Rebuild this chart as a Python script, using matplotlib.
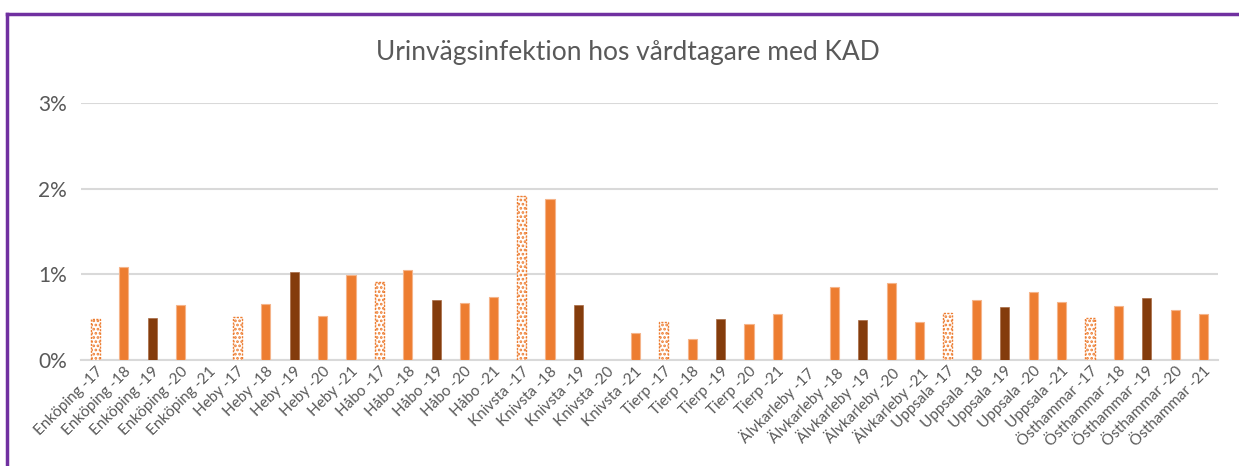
import matplotlib
matplotlib.use("Agg")
import matplotlib.pyplot as plt
from matplotlib.ticker import FuncFormatter
from matplotlib.lines import Line2D

plt.rcParams['font.family'] = ['Lato', 'DejaVu Sans']
plt.rcParams['hatch.linewidth'] = 1.3

municipalities = ["Enköping", "Heby", "Håbo", "Knivsta", "Tierp", "Älvkarleby", "Uppsala", "Östhammar"]
years = ["-17", "-18", "-19", "-20", "-21"]
labels = [f"{m} {y}" for m in municipalities for y in years]

values = [
    0.48, 1.09, 0.49, 0.64, 0.00,   # Enköping
    0.50, 0.65, 1.03, 0.51, 0.99,   # Heby
    0.91, 1.05, 0.70, 0.67, 0.74,   # Håbo
    1.92, 1.88, 0.64, 0.00, 0.31,   # Knivsta
    0.44, 0.24, 0.48, 0.42, 0.54,   # Tierp
    0.00, 0.85, 0.47, 0.90, 0.44,   # Älvkarleby
    0.55, 0.70, 0.62, 0.79, 0.68,   # Uppsala
    0.49, 0.63, 0.72, 0.58, 0.54,   # Östhammar
]
values = [v / 100 for v in values]

ORANGE = "#ED7D31"
BROWN = "#843C0C"
GRAY = "#595959"

fig = plt.figure(figsize=(12.39, 4.66), dpi=100)
ax = fig.add_axes([0.0654, 0.2275, 0.9176, 0.5515])

x = list(range(len(labels)))
for i, v in enumerate(values):
    yr = years[i % 5]
    if v <= 0:
        continue
    if yr == "-17":
        ax.bar(i, v, width=0.32, facecolor="white", edgecolor=ORANGE,
               hatch="....", linewidth=1.0, linestyle=(0, (1.5, 1)), zorder=3)
    elif yr == "-19":
        ax.bar(i, v, width=0.32, color=BROWN, edgecolor="#A86A44", linewidth=0.5, zorder=3)
    else:
        ax.bar(i, v, width=0.32, color=ORANGE, edgecolor="#F5B48A", linewidth=0.8, zorder=3)

ax.set_xlim(-0.5, len(labels) - 0.5)
ax.set_ylim(0, 0.03)
ax.set_yticks([0, 0.01, 0.02, 0.03])
ax.yaxis.set_major_formatter(FuncFormatter(lambda v, p: f"{v*100:.0f}%"))
ax.grid(axis="y", color="#D9D9D9", linewidth=1.5, zorder=0)
ax.set_axisbelow(True)
for s in ["top", "right", "left"]:
    ax.spines[s].set_visible(False)
ax.spines["bottom"].set_color("#D9D9D9")
ax.spines["bottom"].set_linewidth(1.5)
ax.tick_params(axis="y", length=0, labelsize=15, labelcolor=GRAY, pad=10)
ax.tick_params(axis="x", length=0, labelsize=11, labelcolor=GRAY, pad=3)
ax.set_xticks(x)
ax.set_xticklabels(labels, rotation=45, ha="right", rotation_mode="anchor")

fig.text(0.507, 0.888, "Urinvägsinfektion hos vårdtagare med KAD", ha="center", va="center",
         fontsize=19, color=GRAY)

# purple frame
fig.add_artist(Line2D([7/1239, 1.0], [1 - 13.5/466, 1 - 13.5/466], transform=fig.transFigure,
                      color="#7030A0", linewidth=2.5))
fig.add_artist(Line2D([7/1239, 7/1239], [0, 1 - 13.5/466], transform=fig.transFigure,
                      color="#7030A0", linewidth=2.5))

fig.savefig("out.png", dpi=100)
